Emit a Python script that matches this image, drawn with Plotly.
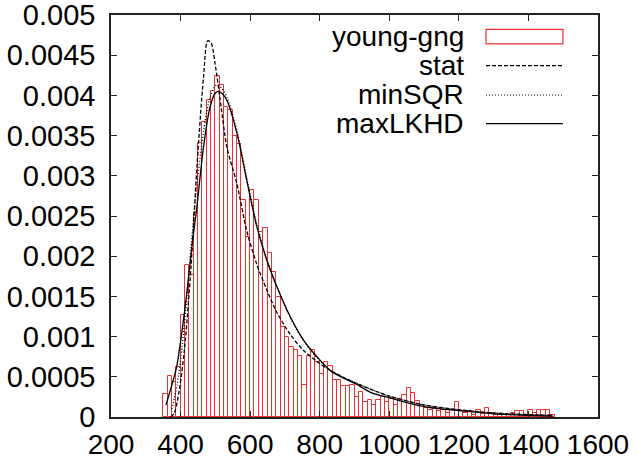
import plotly.graph_objects as go

# ---------------- data ----------------
bin_width = 12.5
bin_starts = [350 + 12.5 * i for i in range(90)]
hist_values = [
    0.00029, 0.00051, 0.00044, 0.00062, 0.00127, 0.00189, 0.00177, 0.00254, 0.00341, 0.00367,
    0.00394, 0.00406, 0.00424, 0.00413, 0.00386, 0.00382, 0.00349, 0.00340, 0.00270, 0.00224,
    0.00282, 0.00270, 0.00230, 0.00235, 0.00204, 0.00180, 0.00149, 0.00112, 0.00100, 0.00087,
    0.00083, 0.00076, 0.00040, 0.00076, 0.00083, 0.00069, 0.00054, 0.00069, 0.00063, 0.00046,
    0.00046, 0.00038, 0.00038, 0.00040, 0.00025, 0.00031, 0.00019, 0.00021, 0.00015, 0.00021,
    0.00025, 0.00019, 0.00023, 0.00015, 0.00022, 0.00027, 0.00036, 0.00030, 0.00020, 0.00015,
    0.00011, 0.00009, 0.00011, 0.00007, 0.00009, 0.00005, 0.00009, 0.00019, 0.00007, 0.00005,
    0.00007, 0.00003, 0.00009, 0.00004, 0.00011, 0.00005, 0.00002, 0.00004, 0.00002, 0.00000,
    0.00005, 0.00007, 0.00007, 0.00002, 0.00009, 0.00005, 0.00009, 0.00009, 0.00009, 0.00002,
]

stat_x = [372, 382, 395, 411, 430, 447, 466, 478, 488, 499, 514, 533, 562, 590, 619, 648, 677,
          715, 753, 792, 830, 900, 1000, 1100, 1200, 1300, 1400, 1470]
stat_y = [0.0, 0.00005, 0.0003, 0.00083, 0.00187, 0.00311, 0.00423, 0.00468, 0.00465, 0.0044,
          0.00394, 0.00336, 0.0029, 0.00232, 0.0019, 0.00158, 0.0013, 0.00103, 0.00083, 0.00069,
          0.00058, 0.00043, 0.00026, 0.00015, 0.00009, 0.00005, 0.00003, 0.00002]

minsqr_x = [375, 390, 405, 420, 435, 450, 466, 485, 500, 508, 520, 533, 562, 590, 619, 648, 677,
            715, 753, 792, 830, 900, 1000, 1100, 1200, 1300, 1400, 1470]
minsqr_y = [0.0001, 0.0004, 0.0009, 0.0016, 0.00235, 0.003, 0.00355, 0.00398, 0.00412, 0.00413,
            0.00408, 0.00398, 0.00356, 0.00298, 0.0024, 0.00196, 0.00162, 0.00124, 0.00095,
            0.00074, 0.00058, 0.00043, 0.00026, 0.00015, 0.00009, 0.00005, 0.00003, 0.00002]

maxlkhd_x = [358, 375, 389, 405, 418, 432, 447, 466, 485, 500, 509, 520, 533, 562, 590, 619, 648,
             677, 715, 753, 792, 830, 870, 900, 950, 1000, 1050, 1100, 1150, 1200, 1300, 1400, 1470]
maxlkhd_y = [0.00015, 0.0004, 0.00063, 0.0011, 0.00154, 0.0021, 0.00262, 0.00336, 0.00386,
             0.00403, 0.00405, 0.00402, 0.00394, 0.00353, 0.00295, 0.00237, 0.00195, 0.00162,
             0.00125, 0.00096, 0.00075, 0.00058, 0.00048, 0.00042, 0.0003, 0.00024, 0.00018,
             0.00013, 0.0001, 0.00008, 0.00004, 0.00002, 0.00001]

x_ticks = [200, 400, 600, 800, 1000, 1200, 1400, 1600]
y_ticks = [0, 0.0005, 0.001, 0.0015, 0.002, 0.0025, 0.003, 0.0035, 0.004, 0.0045, 0.005]
y_tick_labels = ["0", "0.0005", "0.001", "0.0015", "0.002", "0.0025", "0.003", "0.0035",
                 "0.004", "0.0045", "0.005"]

legend_names = ["young-gng", "stat", "minSQR", "maxLKHD"]

# ---------------- figure ----------------
RED = "#f03030"
FONT = "Liberation Sans, Arial, Helvetica, sans-serif"

fig = go.Figure()
fig.add_trace(go.Bar(
    x=[s + bin_width / 2 for s in bin_starts], y=hist_values, width=bin_width,
    marker=dict(color="white", line=dict(color=RED, width=1)),
    name=legend_names[0], showlegend=False,
))
fig.add_trace(go.Scatter(x=stat_x, y=stat_y, mode="lines", name=legend_names[1],
                         line=dict(color="black", width=1.3, dash="4px,2px", shape="spline", smoothing=0.8),
                         showlegend=False))
fig.add_trace(go.Scatter(x=minsqr_x, y=minsqr_y, mode="lines", name=legend_names[2],
                         line=dict(color="black", width=1.3, dash="1px,2px", shape="spline", smoothing=0.8),
                         showlegend=False))
fig.add_trace(go.Scatter(x=maxlkhd_x, y=maxlkhd_y, mode="lines", name=legend_names[3],
                         line=dict(color="black", width=1.3, shape="spline", smoothing=0.8),
                         showlegend=False))

# manual gnuplot-style legend (text right-aligned, sample on the right)
row_y = [0.946, 0.874, 0.801, 0.730]
text_x = 0.729
s0, s1 = 0.770, 0.928
for name, yy in zip(legend_names, row_y):
    fig.add_annotation(x=text_x, y=yy, xref="paper", yref="paper", text=name,
                       showarrow=False, xanchor="right", yanchor="middle",
                       font=dict(family=FONT, size=28, color="black"))
fig.add_shape(type="rect", xref="paper", yref="paper", x0=s0, x1=s1,
              y0=row_y[0] - 0.018, y1=row_y[0] + 0.018, line=dict(color=RED, width=1.2))
fig.add_shape(type="line", xref="paper", yref="paper", x0=s0, x1=s1, y0=row_y[1], y1=row_y[1],
              line=dict(color="black", width=1.2, dash="4px,2px"))
fig.add_shape(type="line", xref="paper", yref="paper", x0=s0, x1=s1, y0=row_y[2], y1=row_y[2],
              line=dict(color="black", width=1.2, dash="1px,2px"))
fig.add_shape(type="line", xref="paper", yref="paper", x0=s0, x1=s1, y0=row_y[3], y1=row_y[3],
              line=dict(color="black", width=1.2))

axis_common = dict(showline=True, linecolor="#222", linewidth=1.5, mirror="allticks",
                   ticks="inside", ticklen=6, tickcolor="#222", tickwidth=1.2,
                   showgrid=False, zeroline=False, tickangle=0, automargin=False,
                   ticklabeloverflow="allow")

fig.update_layout(
    width=638, height=461,
    margin=dict(l=111, r=40, t=15, b=44),
    paper_bgcolor="white", plot_bgcolor="white",
    bargap=0, showlegend=False,
    xaxis=dict(range=[200, 1600], tickvals=x_ticks, ticktext=[str(v) for v in x_ticks],
               ticklabelstandoff=2, tickfont=dict(family=FONT, size=28, color="black"),
               **axis_common),
    yaxis=dict(range=[0, 0.005], tickvals=y_ticks, ticktext=y_tick_labels,
               ticklabelstandoff=8, tickfont=dict(family=FONT, size=29, color="black"),
               **axis_common),
)

fig.write_html("out.html", config={"displayModeBar": False},
               post_script="document.body.style.margin='0';document.body.style.overflow='hidden';")
